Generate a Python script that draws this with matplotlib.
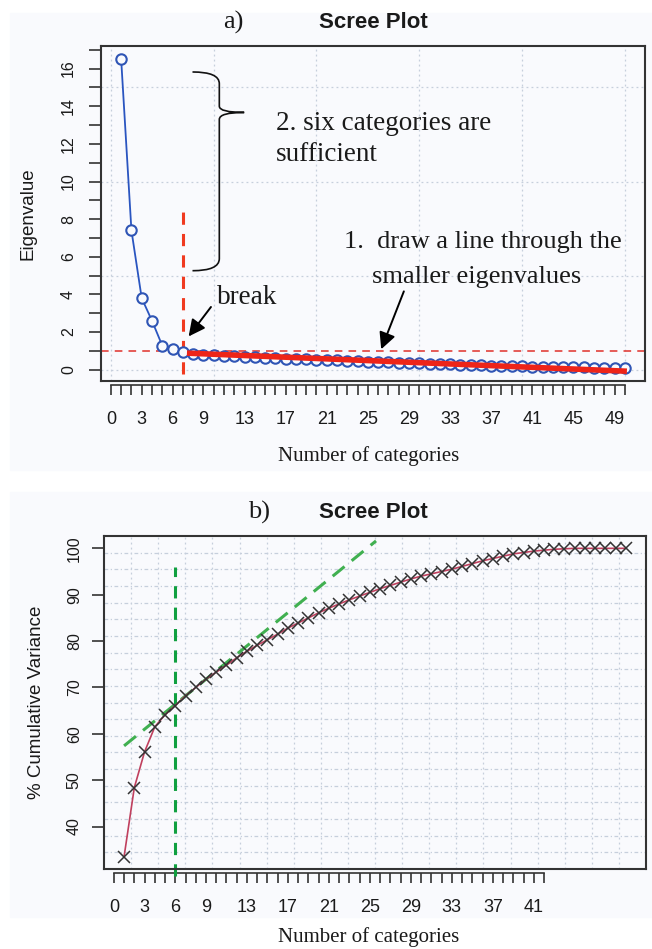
import numpy as np
import matplotlib.pyplot as plt
from matplotlib.path import Path
from matplotlib.patches import PathPatch, Rectangle

# valores próprios estimados (componente 1..50)
componentes = np.arange(1, 51)
autovalores = [16.5, 7.4, 3.8, 2.6, 1.28, 1.12, 0.94, 0.86, 0.80, 0.77,
               0.74, 0.71, 0.68, 0.66, 0.63, 0.61, 0.59, 0.57, 0.55, 0.53,
               0.51, 0.49, 0.47, 0.45, 0.43, 0.41, 0.39, 0.37, 0.35, 0.33,
               0.31, 0.30, 0.28, 0.27, 0.25, 0.24, 0.22, 0.21, 0.19, 0.18,
               0.17, 0.16, 0.15, 0.14, 0.13, 0.12, 0.11, 0.10, 0.09, 0.08]

# variância acumulada (%)
var_acumulada = [33.5, 48.4, 56.1, 61.5, 64.1, 66.1, 68.2, 70.0, 71.8, 73.3,
                 74.8, 76.4, 77.8, 79.1, 80.3, 81.5, 82.8, 83.9, 85.0, 86.1,
                 87.1, 88.0, 88.9, 89.7, 90.5, 91.3, 92.0, 92.7, 93.4, 94.0,
                 94.5, 95.0, 95.5, 96.1, 96.7, 97.3, 97.8, 98.3, 98.8, 99.1,
                 99.4, 99.6, 99.8, 99.9, 100.0, 100.0, 100.0, 100.0, 100.0, 100.0]

rotulos_a = [0, 3, 6, 9, 13, 17, 21, 25, 29, 33, 37, 41, 45, 49]
rotulos_b = [0, 3, 6, 9, 13, 17, 21, 25, 29, 33, 37, 41]

# retas de apoio
reta_a_x = [7.4, 50.2]
reta_a_y = [0.88, -0.08]
reta_b_x = [1.0, 25.6]
reta_b_y = [57.4, 101.6]
corte_a = 7
corte_b = 6

SANS = ['Liberation Sans', 'DejaVu Sans']
SERIF = ['Liberation Serif', 'DejaVu Serif']
plt.rcParams['font.family'] = SANS

fig = plt.figure(figsize=(6.52, 9.49), dpi=100)
fundo = '#f9fafd'
fig.patches.append(Rectangle((10/652, 1-470/949), 642/652, 457/949,
                             transform=fig.transFigure, color=fundo, zorder=-10))
fig.patches.append(Rectangle((10/652, 1-917/949), 642/652, 425/949,
                             transform=fig.transFigure, color=fundo, zorder=-10))

cor_eixo = '#333333'
cor_texto = '#1a1a1a'


def estilo(ax, xmax_tick, rotulos, yticks_maj, yticks_min, ypad):
    ax.set_facecolor(fundo)
    for s in ax.spines.values():
        s.set_color(cor_eixo)
        s.set_linewidth(1.5)
    ax.tick_params(axis='x', bottom=False, labelbottom=False)
    sec = ax.secondary_xaxis(-0.012)
    sec.spines['bottom'].set_bounds(0, xmax_tick)
    sec.spines['bottom'].set_color(cor_eixo)
    sec.spines['bottom'].set_linewidth(1.2)
    sec.set_xticks(np.arange(0, xmax_tick + 1))
    sec.set_xticklabels([str(t) if t in rotulos else '' for t in range(0, xmax_tick + 1)])
    sec.tick_params(axis='x', length=7, width=1.2, color=cor_eixo,
                    labelsize=13, pad=12, labelcolor=cor_texto)
    ax.set_yticks(yticks_maj)
    ax.set_yticks(yticks_min, minor=True)
    ax.tick_params(axis='y', which='both', length=9, width=1.2, color=cor_eixo,
                   labelsize=11.5, labelcolor=cor_texto, pad=ypad)
    for lb in ax.get_yticklabels():
        lb.set_rotation(90)
        lb.set_va('center')
    return sec


def grade(ax, xs, ys, transform, estilo_h):
    for gx in xs:
        ax.plot([gx, gx], [0, 1] if transform is ax.transAxes else ax.get_ylim(),
                transform=transform, color='#c6cfdc', lw=0.9, ls=(0, (1.5, 2.5)), zorder=0)
    for gy in ys:
        ax.plot([0, 1] if transform is ax.transAxes else ax.get_xlim(), [gy, gy],
                transform=transform, color='#c6cfdc', lw=0.9, ls=estilo_h, zorder=0)


# ---------------- a) ----------------
ax1 = fig.add_axes([101/652, 1-381/949, 544/652, 335/949])
ax1.set_xlim(-0.96, 51.96)
ax1.set_ylim(-0.6, 17.2)
sec1 = estilo(ax1, 50, rotulos_a, np.arange(0, 17, 2), np.arange(0, 18, 1), 9)
grade(ax1, range(0, 51, 10), range(0, 17, 5), ax1.transData, (0, (1.5, 2.5)))

ax1.plot(componentes, autovalores, color='#2a55c0', lw=1.3, zorder=3)
ax1.plot(componentes, autovalores, ls='none', marker='o', ms=7.5, mfc=fundo,
         mec='#2f55b5', mew=1.5, zorder=4)
ax1.axhline(1, color='#e0302a', lw=1.1, ls=(0, (5, 4)), zorder=2)
ax1.plot([corte_a, corte_a], [-0.25, 8.7], color='#f03a20', lw=2.2, ls=(0, (4, 3)), zorder=2)
ax1.plot(reta_a_x, reta_a_y, color='#ee2418', lw=4, solid_capstyle='butt', zorder=5)

# chave
verts = [(7.94, 15.82), (10.55, 15.82), (10.55, 15.2),
         (10.55, 14.0), (10.55, 13.67), (12.97, 13.67),
         (10.55, 13.67), (10.55, 13.3), (10.55, 5.9),
         (10.55, 5.26), (7.94, 5.26)]
codes = [Path.MOVETO, Path.CURVE3, Path.CURVE3,
         Path.LINETO, Path.CURVE3, Path.CURVE3,
         Path.CURVE3, Path.CURVE3, Path.LINETO,
         Path.CURVE3, Path.CURVE3]
ax1.add_patch(PathPatch(Path(verts, codes), fill=False, lw=1.2, color='#111111'))

ax1.text(16.1, 12.25, '2. six categories are\nsufficient', family=SERIF, fontsize=19.5,
         va='center', ha='left', linespacing=1.32, color=cor_texto)
ax1.text(10.35, 3.85, 'break', family=SERIF, fontsize=19.5, va='center', ha='left',
         color=cor_texto)
ax1.annotate('', xy=(7.4, 1.65), xytext=(9.9, 3.45),
             arrowprops=dict(arrowstyle='-|>,head_length=1.0,head_width=0.5', color='black', lw=1.4))
ax1.text(22.65, 6.8, '1.  draw a line through the', family=SERIF, fontsize=19,
         va='center', ha='left', color=cor_texto)
ax1.text(25.4, 4.95, 'smaller eigenvalues', family=SERIF, fontsize=19,
         va='center', ha='left', color=cor_texto)
ax1.annotate('', xy=(26.2, 0.95), xytext=(28.6, 4.3),
             arrowprops=dict(arrowstyle='-|>,head_length=1.0,head_width=0.5', color='black', lw=1.4))

ax1.set_ylabel('Eigenvalue', fontsize=13.5, labelpad=18, color=cor_texto)
fig.text(369/652, 1-456/949, 'Number of categories', family=SERIF, fontsize=15,
         ha='center', va='center', color=cor_texto)
fig.text(233/652, 1-22/949, 'a)', family=SERIF, fontsize=19, ha='center', va='center',
         color=cor_texto)
fig.text(373/652, 1-22/949, 'Scree Plot', fontsize=16, fontweight='bold',
         ha='center', va='center', color=cor_texto)

# ---------------- b) ----------------
ax2 = fig.add_axes([104/652, 1-869/949, 542/652, 333/949])
ax2.set_xlim(-0.96, 51.96)
ax2.set_ylim(30.84, 102.66)
sec2 = estilo(ax2, 42, rotulos_b, np.arange(40, 101, 10), [], 7)
passos = [k / 20 for k in range(1, 20)]
grade(ax2, passos, passos, ax2.transAxes, (0, (3, 2, 1, 2)))

ax2.plot(componentes, var_acumulada, color='#c0405e', lw=1.2, zorder=3)
ax2.plot(componentes, var_acumulada, ls='none', marker='x', ms=9, mec='#333333',
         mew=1.1, zorder=4)
ax2.plot(reta_b_x, reta_b_y, color='#40b050', lw=2.2, ls=(0, (5, 3)), zorder=2)
ax2.plot([corte_b, corte_b], [29.3, 96.0], color='#10a040', lw=2.2, ls=(0, (4, 3)),
         zorder=2, clip_on=False)

ax2.set_ylabel('% Cumulative Variance', fontsize=13.5, labelpad=16, color=cor_texto)
fig.text(369/652, 1-937/949, 'Number of categories', family=SERIF, fontsize=15,
         ha='center', va='center', color=cor_texto)
fig.text(259/652, 1-512/949, 'b)', family=SERIF, fontsize=19, ha='center', va='center',
         color=cor_texto)
fig.text(373/652, 1-512/949, 'Scree Plot', fontsize=16, fontweight='bold',
         ha='center', va='center', color=cor_texto)

fig.savefig('out.png', dpi=100)
